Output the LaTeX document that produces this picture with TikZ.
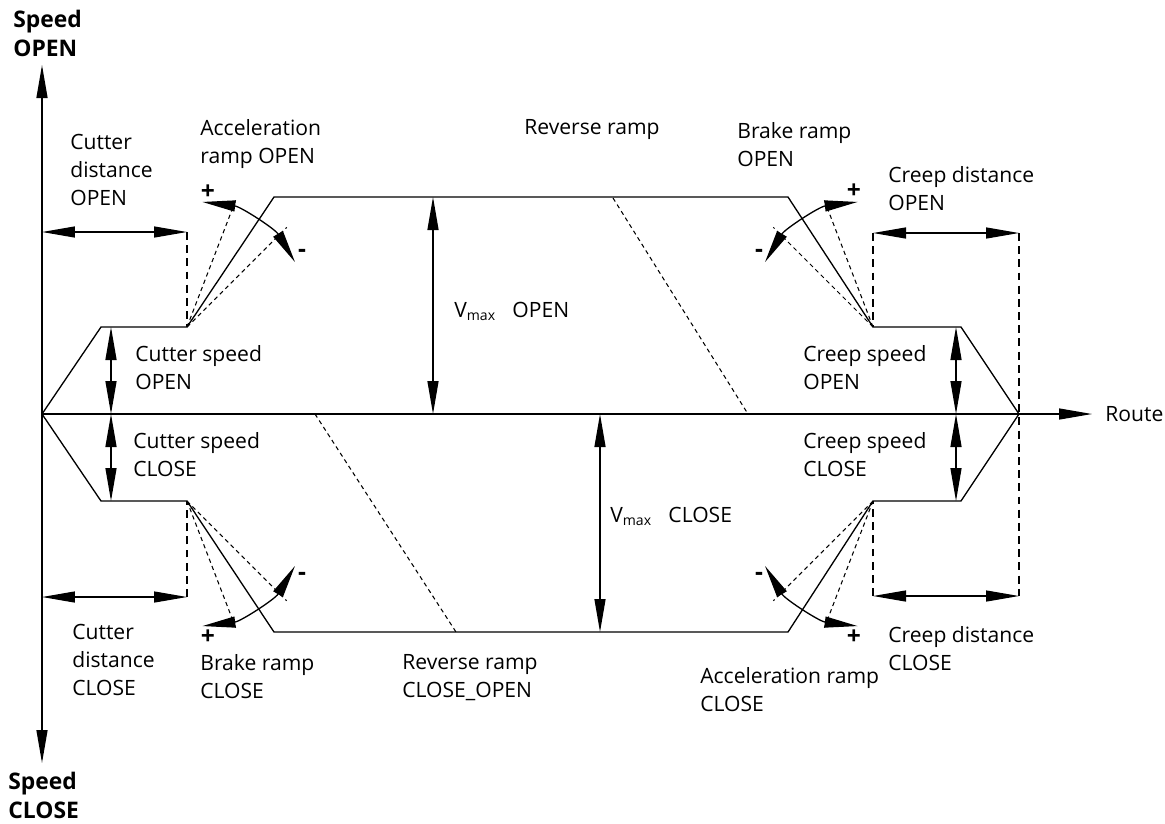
\documentclass[tikz,border=0pt]{standalone}
\usepackage{fontspec}
\setmainfont{Open Sans}
\usetikzlibrary{arrows.meta}
\tikzset{%
	tip/.tip        = {Triangle[length=0.66cm, width=0.22cm]},
	profile/.style  = {line width=0.75pt}, % Speed curve
	dimline/.style  = {line width=0.75pt, tip-tip}, % Dimension arrow
	axis/.style     = {line width=0.75pt, -tip}, % Axis
	guide/.style    = {line width=0.7pt, dash pattern=on 4.5pt off 3pt}, % Extension line
	ramp/.style     = {line width=0.6pt, dash pattern=on 2.4pt off 2pt}, % Ramp variant
	lbl/.style      = {anchor=north west, align=left, inner sep=0pt, font=\fontsize{12}{15.9}\selectfont},
	ttl/.style      = {lbl, font=\bfseries\fontsize{13}{16.5}\selectfont},
	sign/.style     = {inner sep=0pt, font=\bfseries\fontsize{14}{14}\selectfont}
}

\begin{document}
\begin{tikzpicture}[x=0.02cm, y=-0.02cm]
	\useasboundingbox (0,0) rectangle (1165,823);
	% Points of the speed profile
	\coordinate (O)    at (42,414);
	\coordinate (ytop) at (42,65);
	\coordinate (ybot) at (42,763);
	\coordinate (xend) at (1092,414);
	\coordinate (u1) at (101,327);
	\coordinate (u2) at (187,327);
	\coordinate (u3) at (274,197);
	\coordinate (u4) at (788,197);
	\coordinate (u5) at (873,327);
	\coordinate (u6) at (961,327);
	\coordinate (E)  at (1019,414);
	\coordinate (l1) at (101,501);
	\coordinate (l2) at (187,501);
	\coordinate (l3) at (274,632);
	\coordinate (l4) at (788,632);
	\coordinate (l5) at (873,501);
	\coordinate (l6) at (961,501);
	% Dimension points
	\coordinate (cdo0) at (42,232);
	\coordinate (cdo)  at (187,232);
	\coordinate (cdc0) at (42,597);
	\coordinate (cdc)  at (187,597);
	\coordinate (kdo1) at (873,233);
	\coordinate (kdo2) at (1019,233);
	\coordinate (kdc1) at (873,596);
	\coordinate (kdc2) at (1019,596);
	\coordinate (csu) at (111,327);
	\coordinate (cs0) at (111,414);
	\coordinate (csl) at (111,501);
	\coordinate (ksu) at (956,327);
	\coordinate (ks0) at (956,414);
	\coordinate (ksl) at (956,501);
	\coordinate (vo1) at (433,197);
	\coordinate (vo0) at (433,414);
	\coordinate (vc0) at (600,414);
	\coordinate (vc1) at (600,632);
	\coordinate (rro1) at (613,198);
	\coordinate (rro2) at (748,414);
	\coordinate (rrc1) at (315,414);
	\coordinate (rrc2) at (456,632);

	% Drawing the labels
	\draw
	node at (13,10) [ttl] (spo) {Speed\\OPEN}
	node at (8,772) [ttl] (spc) {Speed\\CLOSE}
	node at (70,134) [lbl] (cdol) {Cutter\\distance\\OPEN}
	node at (200,119) [lbl] (arol) {Acceleration\\ramp OPEN}
	node at (524,119) [lbl] (rrol) {Reverse ramp}
	node at (737,122) [lbl] (brol) {Brake ramp\\OPEN}
	node at (888,166) [lbl] (kdol) {Creep distance\\OPEN}
	node at (454,302) [lbl] (vmo) {V\textsubscript{max}\ \ \ OPEN}
	node at (135,345) [lbl] (cso) {Cutter speed\\OPEN}
	node at (803,345) [lbl] (kso) {Creep speed\\OPEN}
	node at (1105,406) [lbl] (route) {Route}
	node at (133,432) [lbl] (csc) {Cutter speed\\CLOSE}
	node at (803,432) [lbl] (ksc) {Creep speed\\CLOSE}
	node at (610,507) [lbl] (vmc) {V\textsubscript{max}\ \ \ CLOSE}
	node at (72,624) [lbl] (cdcl) {Cutter\\distance\\CLOSE}
	node at (200,654) [lbl] (brcl) {Brake ramp\\CLOSE}
	node at (402,654) [lbl] (rrcl) {Reverse ramp\\CLOSE\_OPEN}
	node at (700,667) [lbl] (arcl) {Acceleration ramp\\CLOSE}
	node at (888,626) [lbl] (kdcl) {Creep distance\\CLOSE}
	node at (208,192) [sign] {+}
	node at (302,253) [sign] {-}
	node at (854,191) [sign] {+}
	node at (759,253) [sign] {-}
	node at (208,637) [sign] {+}
	node at (302,576) [sign] {-}
	node at (854,637) [sign] {+}
	node at (759,576) [sign] {-}
	;

	% Drawing the axes
	\draw[axis] (O) -- (xend);
	\draw[dimline] (ybot) -- (ytop);

	% Drawing the speed profile
	\draw[profile] (O) -- (u1) -- (u2) -- (u3) -- (u4) -- (u5) -- (u6) -- (E);
	\draw[profile] (O) -- (l1) -- (l2) -- (l3) -- (l4) -- (l5) -- (l6) -- (E);
	\draw[ramp] (rro1) -- (rro2);
	\draw[ramp] (rrc1) -- (rrc2);

	% Drawing the ramp variants
	\draw[ramp] (u2) -- ++(-69:139) (u2) -- ++(-45:141);
	\draw[ramp] (u5) -- ++(-111:139) (u5) -- ++(-135:141);
	\draw[ramp] (l2) -- ++(69:139) (l2) -- ++(45:141);
	\draw[ramp] (l5) -- ++(111:139) (l5) -- ++(135:141);
	\draw[dimline] (u2) ++(-83:126) arc[start angle=-83, end angle=-31, radius=126];
	\draw[dimline] (u5) ++(-97:126) arc[start angle=-97, end angle=-149, radius=126];
	\draw[dimline] (l2) ++(83:126) arc[start angle=83, end angle=31, radius=126];
	\draw[dimline] (l5) ++(97:126) arc[start angle=97, end angle=149, radius=126];

	% Drawing the dimensions
	\draw[guide] (cdo) -- (u2);
	\draw[guide] (cdc) -- (l2);
	\draw[guide] (kdo1) -- (u5);
	\draw[guide] (kdc1) -- (l5);
	\draw[guide] (kdo2) -- (kdc2);
	\draw[dimline] (cdo0) -- (cdo);
	\draw[dimline] (cdc0) -- (cdc);
	\draw[dimline] (kdo1) -- (kdo2);
	\draw[dimline] (kdc1) -- (kdc2);
	\draw[dimline] (csu) -- (cs0);
	\draw[dimline] (cs0) -- (csl);
	\draw[dimline] (ksu) -- (ks0);
	\draw[dimline] (ks0) -- (ksl);
	\draw[dimline] (vo1) -- (vo0);
	\draw[dimline] (vc0) -- (vc1);
\end{tikzpicture}
\end{document}
